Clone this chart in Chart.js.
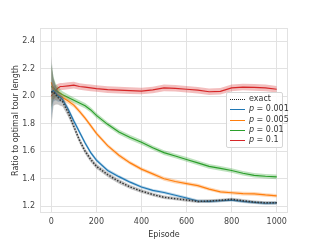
<!DOCTYPE html>
<html>
<head>
<meta charset="utf-8">
<script src="https://cdn.jsdelivr.net/npm/chart.js@4.4.1/dist/chart.umd.min.js"></script>
<style>
  html, body { margin: 0; padding: 0; background: #fff; }
  #wrap { position: relative; width: 320px; height: 240px; }
  #legend {
    position: absolute; left: 226px; top: 92px; width: 57px; height: 56px;
    border: 1px solid #d6d6d6; border-radius: 2px; background: rgba(255,255,255,0.85);
    font: 8px "DejaVu Sans", sans-serif; color: #333; box-sizing: border-box; padding-top: 1px;
  }
  #legend .row { height: 10.3px; line-height: 10.3px; white-space: nowrap; position: relative; }
  #legend .sw { position: absolute; left: 3px; top: 5px; width: 15px; height: 0; }
  #legend .lbl { position: absolute; left: 22px; top: 0; }
</style>
</head>
<body>
<div id="wrap">
  <canvas id="c" width="320" height="240"></canvas>
  <div id="legend"></div>
</div>
<script>
const episodes = [0, 10, 20, 30, 40, 50, 75, 100, 125, 150, 175, 200, 250, 300, 350, 400, 450, 500, 550, 600, 650, 700, 750, 800, 850, 900, 950, 1000];

const exactVals = [2.03, 2.03, 2.01, 1.99, 1.97, 1.96, 1.88, 1.78, 1.68, 1.60, 1.54, 1.49, 1.43, 1.38, 1.34, 1.31, 1.285, 1.265, 1.255, 1.245, 1.235, 1.238, 1.243, 1.25, 1.24, 1.23, 1.225, 1.225];
const p001Vals = [2.03, 2.04, 2.02, 2.0, 1.99, 1.975, 1.905, 1.82, 1.74, 1.66, 1.59, 1.535, 1.46, 1.415, 1.375, 1.34, 1.315, 1.30, 1.28, 1.26, 1.238, 1.235, 1.24, 1.245, 1.235, 1.228, 1.222, 1.224];
const p005Vals = [2.1, 2.05, 2.02, 2.01, 2.0, 1.99, 1.965, 1.935, 1.89, 1.84, 1.785, 1.73, 1.64, 1.57, 1.515, 1.47, 1.435, 1.40, 1.38, 1.365, 1.35, 1.325, 1.305, 1.298, 1.292, 1.29, 1.282, 1.276];
const p01Vals = [2.07, 2.06, 2.04, 2.03, 2.02, 2.01, 1.99, 1.97, 1.95, 1.93, 1.90, 1.86, 1.795, 1.74, 1.70, 1.665, 1.625, 1.59, 1.565, 1.54, 1.515, 1.49, 1.475, 1.46, 1.44, 1.425, 1.418, 1.413];
const p1Vals = [2.0, 2.02, 2.04, 2.06, 2.07, 2.07, 2.075, 2.08, 2.07, 2.065, 2.06, 2.055, 2.047, 2.044, 2.04, 2.037, 2.045, 2.06, 2.057, 2.05, 2.043, 2.032, 2.035, 2.06, 2.066, 2.064, 2.06, 2.05];

// half width of the shaded bands
const exactSpread = [0.26, 0.1, 0.07, 0.05, 0.04, 0.035, 0.03, 0.025, 0.022, 0.02, 0.02, 0.018, 0.017, 0.016, 0.015, 0.014, 0.013, 0.013, 0.012, 0.012, 0.012, 0.012, 0.012, 0.012, 0.012, 0.012, 0.012, 0.012];
const p001Spread = [0.2, 0.08, 0.05, 0.04, 0.03, 0.025, 0.02, 0.018, 0.016, 0.015, 0.014, 0.013, 0.012, 0.012, 0.011, 0.011, 0.011, 0.011, 0.011, 0.011, 0.011, 0.011, 0.011, 0.011, 0.011, 0.011, 0.011, 0.011];
const p005Spread = [0.12, 0.07, 0.05, 0.04, 0.03, 0.025, 0.02, 0.018, 0.017, 0.016, 0.016, 0.015, 0.015, 0.015, 0.014, 0.014, 0.014, 0.014, 0.014, 0.013, 0.013, 0.013, 0.013, 0.013, 0.013, 0.013, 0.013, 0.013];
const p01Spread = [0.17, 0.08, 0.05, 0.04, 0.03, 0.025, 0.022, 0.02, 0.02, 0.02, 0.019, 0.019, 0.018, 0.018, 0.018, 0.018, 0.017, 0.017, 0.017, 0.017, 0.017, 0.017, 0.017, 0.017, 0.017, 0.017, 0.017, 0.017];
const p1Spread = [0.08, 0.05, 0.04, 0.03, 0.025, 0.025, 0.025, 0.024, 0.024, 0.024, 0.024, 0.024, 0.024, 0.024, 0.024, 0.024, 0.024, 0.024, 0.024, 0.024, 0.024, 0.024, 0.024, 0.024, 0.024, 0.024, 0.024, 0.024];

const xTicks = [0, 200, 400, 600, 800, 1000];
const yTicks = [1.2, 1.4, 1.6, 1.8, 2.0, 2.2, 2.4];

const series = [
  { label: 'exact', html: 'exact', vals: exactVals, spread: exactSpread, color: '#222222', band: 'rgba(90,90,90,0.35)', dash: [1.5, 1.5], width: 1.5 },
  { label: 'p = 0.001', html: '<i>p</i> = 0.001', vals: p001Vals, spread: p001Spread, color: '#1f77b4', band: 'rgba(31,119,180,0.3)', dash: [], width: 1.2 },
  { label: 'p = 0.005', html: '<i>p</i> = 0.005', vals: p005Vals, spread: p005Spread, color: '#ff7f0e', band: 'rgba(255,127,14,0.3)', dash: [], width: 1.2 },
  { label: 'p = 0.01', html: '<i>p</i> = 0.01', vals: p01Vals, spread: p01Spread, color: '#2ca02c', band: 'rgba(44,160,44,0.3)', dash: [], width: 1.2 },
  { label: 'p = 0.1', html: '<i>p</i> = 0.1', vals: p1Vals, spread: p1Spread, color: '#d62728', band: 'rgba(214,39,40,0.3)', dash: [], width: 1.2 }
];

const datasets = [];
series.forEach(s => {
  datasets.push({
    label: s.label + ' hi',
    data: episodes.map((x, i) => ({ x, y: s.vals[i] + s.spread[i] })),
    borderWidth: 0, pointRadius: 0, backgroundColor: s.band, fill: '+1', tension: 0
  });
  datasets.push({
    label: s.label + ' lo',
    data: episodes.map((x, i) => ({ x, y: s.vals[i] - s.spread[i] })),
    borderWidth: 0, pointRadius: 0, fill: false, tension: 0
  });
  datasets.push({
    label: s.label,
    data: episodes.map((x, i) => ({ x, y: s.vals[i] })),
    borderColor: s.color, borderWidth: s.width, borderDash: s.dash,
    pointRadius: 0, fill: false, tension: 0
  });
});

const gridColor = '#e2e2e2';
const font = { family: 'DejaVu Sans', size: 8 };

// frame around the plot area, like the light spines
const frame = {
  id: 'frame',
  beforeDatasetsDraw(chart) {
    const a = chart.chartArea, ctx = chart.ctx;
    ctx.save();
    ctx.strokeStyle = gridColor;
    ctx.lineWidth = 1;
    ctx.strokeRect(a.left + 0.5, a.top + 0.5, a.right - a.left - 1, a.bottom - a.top - 1);
    ctx.restore();
  }
};

new Chart(document.getElementById('c'), {
  type: 'line',
  data: { datasets },
  plugins: [frame],
  options: {
    responsive: false,
    animation: false,
    layout: { padding: { top: 28, right: 32, left: 11, bottom: 0 } },
    plugins: { legend: { display: false }, tooltip: { enabled: false } },
    scales: {
      x: {
        type: 'linear', min: -50, max: 1050,
        afterBuildTicks: sc => { sc.ticks = xTicks.map(v => ({ value: v })); },
        afterFit: sc => { sc.height = 27; },
        grid: { color: gridColor, drawTicks: false },
        border: { display: false },
        ticks: { color: '#444', font, padding: 4, maxRotation: 0, callback: v => String(v) },
        title: { display: true, text: 'Episode', color: '#333', font, padding: { top: 0, bottom: 0 } }
      },
      y: {
        type: 'linear', min: 1.151, max: 2.495,
        afterBuildTicks: sc => { sc.ticks = yTicks.map(v => ({ value: v })); },
        afterFit: sc => { sc.width = 29; },
        grid: { color: gridColor, drawTicks: false },
        border: { display: false },
        ticks: { color: '#444', font, padding: 5, callback: v => v.toFixed(1) },
        title: { display: true, text: 'Ratio to optimal tour length', color: '#333', font, padding: { top: 0, bottom: 2 } }
      }
    }
  }
});

// legend box inside the plot
const legendEl = document.getElementById('legend');
series.forEach(s => {
  const row = document.createElement('div');
  row.className = 'row';
  const sw = document.createElement('span');
  sw.className = 'sw';
  sw.style.borderTop = s.dash.length ? '1.5px dotted ' + s.color : '1.5px solid ' + s.color;
  const lbl = document.createElement('span');
  lbl.className = 'lbl';
  lbl.innerHTML = s.html;
  row.appendChild(sw);
  row.appendChild(lbl);
  legendEl.appendChild(row);
});
</script>
</body>
</html>
